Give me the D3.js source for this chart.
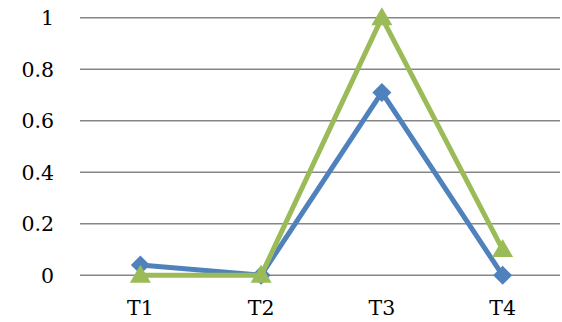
<!DOCTYPE html>
<html>
<head>
<meta charset="utf-8">
<script src="https://cdn.jsdelivr.net/npm/d3@7"></script>
<style>
  html, body { margin: 0; padding: 0; background: #fff; }
  svg { display: block; }
  text { font-family: "DejaVu Serif", "Liberation Serif", serif; fill: #000; }
</style>
</head>
<body>
<svg id="chart" width="562" height="322"></svg>
<script>
const categories = ["T1", "T2", "T3", "T4"];
const seriesA = [0.04, 0, 0.71, 0];   // blue, diamond markers
const seriesB = [0, 0, 1, 0.1];       // green, triangle markers
const yTicks = [0, 0.2, 0.4, 0.6, 0.8, 1];

const svg = d3.select("#chart");
const plotLeft = 80, plotRight = 563, plotTop = 17.7, plotBottom = 275.3;

const x = d3.scaleBand().domain(categories).range([plotLeft, plotRight]);
const y = d3.scaleLinear().domain([0, 1]).range([plotBottom, plotTop]);
const cx = d => x(d) + x.bandwidth() / 2;

// horizontal gridlines
svg.append("g").selectAll("line").data(yTicks).join("line")
  .attr("x1", plotLeft).attr("x2", 560)
  .attr("y1", d => y(d)).attr("y2", d => y(d))
  .attr("stroke", "#868686").attr("stroke-width", 1.5);

// y tick labels
svg.append("g").selectAll("text").data(yTicks).join("text")
  .attr("x", 54).attr("y", d => y(d))
  .attr("dy", "0.36em")
  .attr("text-anchor", "end")
  .attr("font-size", 20.5)
  .text(d => String(d));

// x tick labels
svg.append("g").selectAll("text").data(categories).join("text")
  .attr("x", d => cx(d)).attr("y", 315)
  .attr("text-anchor", "middle")
  .attr("font-size", 20.5)
  .text(d => d);

const line = d3.line().x((d, i) => cx(categories[i])).y(d => y(d));

// marker shapes centred on the data point
const diamond = r => `M0,${-r}L${r},0L0,${r}L${-r},0Z`;
const triangle = r => `M0,${-r}L${r},${r * 0.72}L${-r},${r * 0.72}Z`;

function drawSeries(values, color, shape) {
  svg.append("path").datum(values)
    .attr("d", line)
    .attr("fill", "none")
    .attr("stroke", color)
    .attr("stroke-width", 5)
    .attr("stroke-linejoin", "miter");
  svg.append("g").selectAll("path").data(values).join("path")
    .attr("transform", (d, i) => `translate(${cx(categories[i])},${y(d)})`)
    .attr("d", shape)
    .attr("fill", color);
}

drawSeries(seriesA, "#4F81BD", diamond(9.5));
drawSeries(seriesB, "#9BBB59", triangle(10.5));
</script>
</body>
</html>
